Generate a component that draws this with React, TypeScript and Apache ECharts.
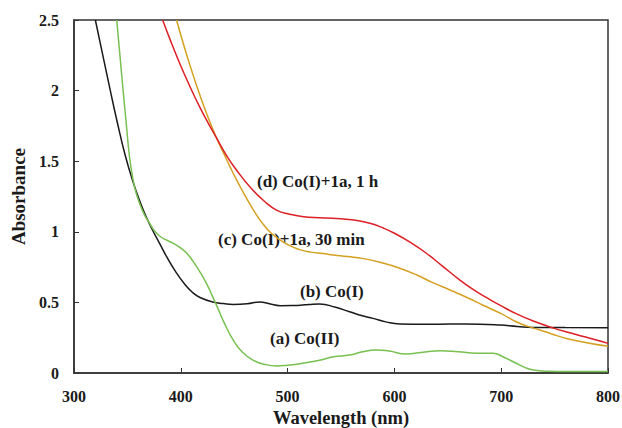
import React, { useEffect, useRef } from "react";
import * as echarts from "echarts";

const xTicks = [300, 400, 500, 600, 700, 800];
const yTicks = [0, 0.5, 1, 1.5, 2, 2.5];

const seriesA_CoII: [number, number][] = [
  [340, 2.5], [343, 2.25], [346, 2.0], [349, 1.76], [352, 1.53], [355, 1.38], [358, 1.28], [362, 1.19],
  [366, 1.12], [370, 1.07], [375, 1.01], [381, 0.965], [387, 0.94], [393, 0.918], [400, 0.885], [406, 0.845],
  [412, 0.785], [418, 0.715], [424, 0.635], [429, 0.555], [434, 0.47], [441, 0.35], [449, 0.234], [458, 0.145],
  [468, 0.09], [478, 0.062], [490, 0.05], [500, 0.055], [512, 0.066], [530, 0.09], [543, 0.115], [558, 0.127],
  [570, 0.15], [583, 0.163], [595, 0.155], [611, 0.135], [625, 0.145], [643, 0.158], [660, 0.15], [677, 0.14],
  [692, 0.14], [703, 0.11], [714, 0.069], [722, 0.04], [730, 0.021], [745, 0.012], [761, 0.01], [800, 0.01],
];

const seriesB_CoI: [number, number][] = [
  [320, 2.5], [327, 2.25], [334, 2.0], [341, 1.76], [348, 1.54], [355, 1.36], [362, 1.21], [368, 1.1],
  [373, 1.02], [380, 0.92], [387, 0.82], [395, 0.72], [403, 0.635], [411, 0.57], [418, 0.535], [430, 0.503],
  [440, 0.492], [449, 0.486], [462, 0.49], [474, 0.503], [483, 0.49], [493, 0.477], [505, 0.478], [512, 0.48],
  [520, 0.485], [530, 0.489], [545, 0.465], [558, 0.434], [570, 0.405], [580, 0.387], [592, 0.362], [605, 0.347],
  [630, 0.345], [652, 0.347], [680, 0.346], [699, 0.34], [715, 0.33], [730, 0.323], [760, 0.322], [800, 0.32],
];

const seriesC_30min: [number, number][] = [
  [396, 2.5], [402, 2.342], [408, 2.193], [415, 2.031], [421, 1.902], [427, 1.782], [434, 1.655], [440, 1.558],
  [446, 1.462], [452, 1.371], [462, 1.231], [471, 1.118], [477, 1.055], [484, 0.995], [492, 0.947], [502, 0.902],
  [512, 0.872], [522, 0.856], [533, 0.846], [543, 0.836], [556, 0.825], [571, 0.81], [590, 0.777], [605, 0.742],
  [621, 0.694], [636, 0.64], [652, 0.588], [668, 0.535], [683, 0.48], [700, 0.42], [714, 0.363], [725, 0.33],
  [736, 0.305], [748, 0.275], [761, 0.245], [780, 0.215], [800, 0.19],
];

const seriesD_1h: [number, number][] = [
  [383, 2.5], [390, 2.361], [397, 2.229], [404, 2.105], [411, 1.989], [418, 1.88], [425, 1.779], [433, 1.671],
  [443, 1.538], [452, 1.439], [465, 1.316], [478, 1.218], [490, 1.152], [502, 1.125], [515, 1.107], [530, 1.1],
  [546, 1.095], [560, 1.085], [577, 1.06], [590, 1.025], [600, 0.99], [615, 0.925], [630, 0.848], [645, 0.757],
  [661, 0.66], [674, 0.59], [686, 0.535], [700, 0.475], [714, 0.42], [730, 0.368], [749, 0.318], [765, 0.283],
  [777, 0.258], [790, 0.232], [800, 0.21],
];

const labels = ["(d) Co(I)+1a, 1 h", "(c) Co(I)+1a, 30 min", "(b) Co(I)", "(a) Co(II)"];

const FONT = "'Liberation Serif', 'Times New Roman', serif";

export default function App() {
  const ref = useRef<HTMLDivElement>(null);
  useEffect(() => {
    if (!ref.current) return;
    const chart = echarts.init(ref.current, null, { renderer: "svg" });
    const line = (name: string, data: [number, number][], color: string) => ({
      name,
      type: "line",
      data,
      showSymbol: false,
      smooth: 0.5,
      lineStyle: { color, width: 1.5 },
      itemStyle: { color },
      clip: true,
    });
    const textStyle = { fontFamily: FONT, fontWeight: "bold", fontSize: 17, fill: "#1a1a1a" };
    chart.setOption({
      animation: false,
      backgroundColor: "#ffffff",
      grid: {
        left: 74, right: 14, top: 20, bottom: 55, containLabel: false, outerBoundsMode: "none",
        show: true, borderColor: "#333", borderWidth: 1.5, backgroundColor: "transparent",
      },
      xAxis: {
        type: "value",
        min: xTicks[0],
        max: xTicks[xTicks.length - 1],
        interval: 100,
        name: "Wavelength (nm)",
        nameLocation: "middle",
        nameGap: 26,
        nameTextStyle: { fontFamily: FONT, fontWeight: "bold", fontSize: 18.5, color: "#1a1a1a" },
        axisLine: { show: true, lineStyle: { color: "#333", width: 1.5 } },
        axisTick: { show: true, inside: true, length: 5, lineStyle: { color: "#333", width: 1 } },
        axisLabel: { fontFamily: FONT, fontWeight: "bold", fontSize: 16, color: "#1a1a1a", margin: 15 },
        splitLine: { show: false },
      },
      yAxis: {
        type: "value",
        min: yTicks[0],
        max: yTicks[yTicks.length - 1],
        interval: 0.5,
        name: "Absorbance",
        nameLocation: "middle",
        nameGap: 46,
        nameTextStyle: { fontFamily: FONT, fontWeight: "bold", fontSize: 19, color: "#1a1a1a" },
        axisLine: { show: true, lineStyle: { color: "#333", width: 1.5 } },
        axisTick: { show: true, inside: true, length: 5, lineStyle: { color: "#333", width: 1 } },
        axisLabel: { fontFamily: FONT, fontWeight: "bold", fontSize: 16, color: "#1a1a1a", margin: 15 },
        splitLine: { show: false },
      },
      series: [
        line("(b) Co(I)", seriesB_CoI, "#1a1a1a"),
        line("(a) Co(II)", seriesA_CoII, "#78c050"),
        line("(c) Co(I)+1a, 30 min", seriesC_30min, "#d4a020"),
        line("(d) Co(I)+1a, 1 h", seriesD_1h, "#dd1f26"),
      ],
      graphic: [
        { type: "text", left: 257, top: 173, style: { ...textStyle, text: labels[0] } },
        { type: "text", left: 218, top: 231, style: { ...textStyle, text: labels[1] } },
        { type: "text", left: 300, top: 283, style: { ...textStyle, text: labels[2] } },
        { type: "text", left: 270, top: 330, style: { ...textStyle, text: labels[3] } },
      ],
    });
    return () => chart.dispose();
  }, []);
  return (
    <div
      ref={ref}
      style={{ position: "fixed", left: 0, top: 0, width: 622, height: 428, background: "#fff" }}
    />
  );
}
